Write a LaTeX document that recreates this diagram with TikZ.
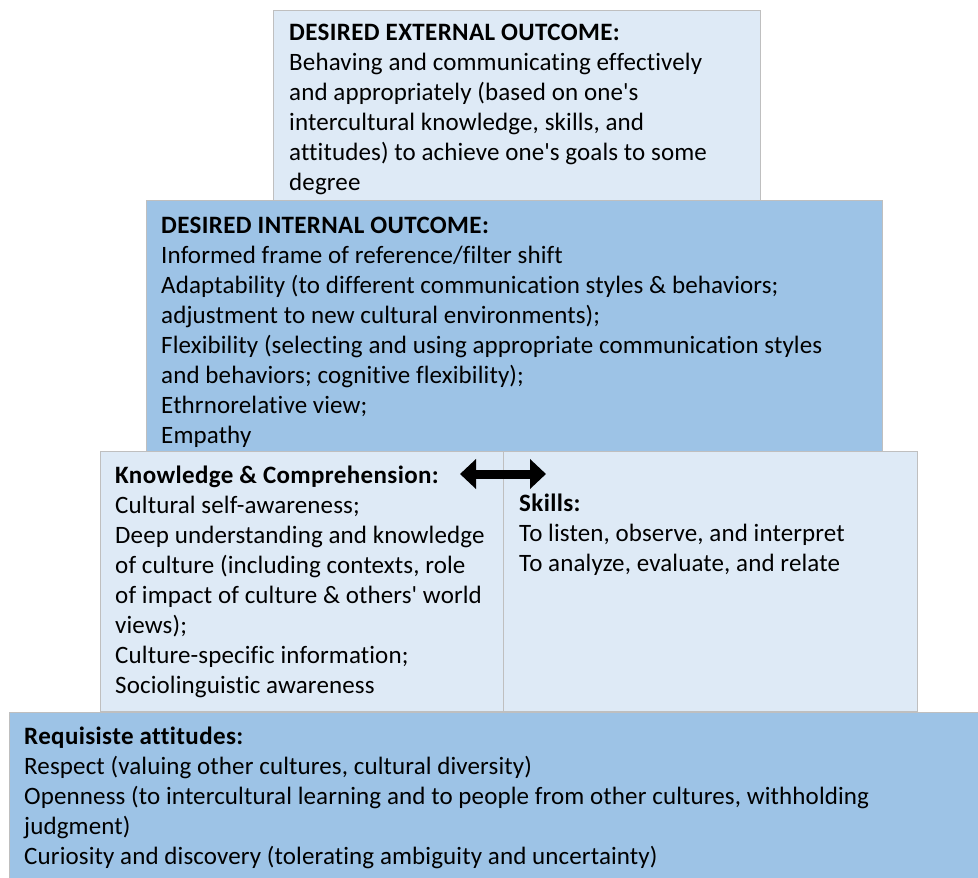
\documentclass[tikz,border=0pt]{standalone}
\usepackage{fontspec}
\setmainfont{Carlito}[Ligatures={NoCommon}, LetterSpace=0.5, BoldFeatures={LetterSpace=1.5}]
\usetikzlibrary{arrows.meta}

\definecolor{lightbox}{HTML}{DEEAF6}
\definecolor{darkbox}{HTML}{9DC3E6}
\definecolor{boxline}{HTML}{BFBFBF}

\begin{document}
\begin{tikzpicture}[x=1pt, y=-1pt,
		box/.style={draw=boxline, line width=1.2pt, anchor=north west, inner sep=0pt},
		light/.style={box, fill=lightbox},
		dark/.style={box, fill=darkbox},
		txt/.style={anchor=north west, align=left, inner sep=0pt, font={\fontsize{25}{30}\selectfont}}]
		\useasboundingbox (0,0) rectangle (978,878);

		\node[light, minimum width=487pt, minimum height=190pt] (ext) at (273,10) {};
		\node[dark, minimum width=736pt, minimum height=251pt] (int) at (146,200) {};
		\node[light, minimum width=403pt, minimum height=260pt] (know) at (100,451) {};
		\node[light, minimum width=414pt, minimum height=260pt] (skill) at (503,451) {};
		\node[dark, minimum width=980pt, minimum height=170pt] (att) at (9,712) {};

		\node[txt] (exttxt) at (289,24) {\textbf{DESIRED EXTERNAL OUTCOME:}\\
			Behaving and communicating effectively\\
			and appropriately (based on one\textquotesingle s\\
			intercultural knowledge, skills, and\\
			attitudes) to achieve one\textquotesingle s goals to some\\
			degree};
		\node[txt] (inttxt) at (161,217) {\textbf{DESIRED INTERNAL OUTCOME:}\\
			Informed frame of reference/filter shift\\
			Adaptability (to different communication styles \& behaviors;\\
			adjustment to new cultural environments);\\
			Flexibility (selecting and using appropriate communication styles\\
			and behaviors; cognitive flexibility);\\
			Ethrnorelative view;\\
			Empathy};
		\node[txt] (knowtxt) at (115,466) {\textbf{Knowledge \& Comprehension:}\\
			Cultural self-awareness;\\
			Deep understanding and knowledge\\
			of culture (including contexts, role\\
			of impact of culture \& others\textquotesingle\ world\\
			views);\\
			Culture-specific information;\\
			Sociolinguistic awareness};
		\node[txt] (skilltxt) at (519,494) {\textbf{Skills:}\\
			To listen, observe, and interpret\\
			To analyze, evaluate, and relate};
		\node[txt] (atttxt) at (24,727) {\textbf{Requisiste attitudes:}\\
			Respect (valuing other cultures, cultural diversity)\\
			Openness (to intercultural learning and to people from other cultures, withholding\\
			judgment)\\
			Curiosity and discovery (tolerating ambiguity and uncertainty)};

		\coordinate (arrL) at (460,474);
		\coordinate (arrR) at (546,474);
		\draw[line width=9pt, {Triangle[length=16pt 0 0, width=29pt 0 0]}-{Triangle[length=16pt 0 0, width=29pt 0 0]}] (arrL) -- (arrR);
	\end{tikzpicture}
\end{document}
